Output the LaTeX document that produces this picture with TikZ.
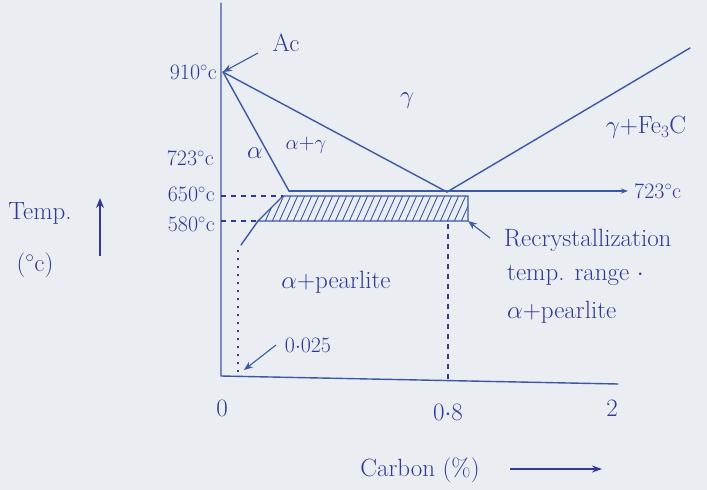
\documentclass[tikz,border=0pt]{standalone}
\usetikzlibrary{arrows.meta}
\definecolor{paper}{RGB}{234,238,243}
\definecolor{ink}{RGB}{48,58,150}
\definecolor{pen}{RGB}{58,88,165}
\tikzset{
  lbl/.style={text=ink, font=\fontsize{25}{27}\selectfont, inner sep=1pt},
  small/.style={text=ink, font=\fontsize{22}{24}\selectfont, inner sep=1pt},
  curve/.style={draw=pen, line width=1.4pt, line cap=round},
  guide/.style={draw=ink, line width=1.3pt, dashed, dash pattern=on 5pt off 5pt},
  dotguide/.style={draw=ink, line width=1.3pt, dash pattern=on 2pt off 6pt},
  pointer/.style={draw=pen, line width=1.1pt, -{Stealth[length=9pt,width=7pt]}},
}
\begin{document}
\begin{tikzpicture}[x=1pt,y=-1pt]
\fill[paper] (0,0) rectangle (707,490);
\useasboundingbox (0,0) rectangle (707,490);
% key points
\coordinate (O) at (221,376);
\coordinate (Ytop) at (221,3);
\coordinate (Xend) at (618,384);
\coordinate (T910) at (223,72);
\coordinate (Apt) at (289,191);
\coordinate (E) at (447,192);
\coordinate (Acm) at (690,48);
\coordinate (L723) at (628,191);
\coordinate (B1) at (283,196);
\coordinate (B2) at (468,196);
\coordinate (B3) at (468,221);
\coordinate (B4) at (258,221);
\coordinate (Y650) at (221,196);
\coordinate (Y580) at (221,221);
\coordinate (D1) at (241,245);
\coordinate (D2) at (238,250);
\coordinate (D3) at (238,372);
\coordinate (V1) at (448,224);
\coordinate (V2) at (448,380);
% axes
\draw[curve] (Ytop) -- (O) -- (Xend);
% phase lines
\draw[curve] (T910) -- (Apt);
\draw[curve] (T910) -- (E);
\draw[curve] (E) -- (Acm);
\draw[curve, -{Stealth[length=7pt,width=5pt]}] (Apt) -- (L723);
% hatched band
\begin{scope}
  \clip (B1) -- (B2) -- (B3) -- (B4) -- cycle;
  \foreach \x in {250,257,...,480} {
    \draw[pen, line width=0.9pt] (\x,224) -- (\x+14,193);
  }
\end{scope}
\draw[curve, line width=1.2pt] (B1) -- (B2) -- (B3) -- (B4) -- cycle;
\draw[curve] (B4) -- (D1);
% guides
\draw[guide] (Y650) -- (B1);
\draw[guide] (Y580) -- (B4);
\draw[dotguide] (D2) -- (D3);
\draw[guide] (V1) -- (V2);
% labels
\node[lbl] (ac) at (286,43) {Ac};
\coordinate (AcA) at (258,53);
\draw[pointer] (AcA) -- (T910);
\node[small, anchor=east] (t910) at (218,72) {910$^\circ$c};
\node[small, anchor=east] (t723) at (215,158) {723$^\circ$c};
\node[small, anchor=east] (t650) at (216,194) {650$^\circ$c};
\node[small, anchor=east] (t580) at (216,224) {580$^\circ$c};
\node[small, anchor=west] (r723) at (633,191) {723$^\circ$c};
\node[lbl] (temp) at (40,213) {Temp.};
\coordinate (TA1) at (100,256);
\coordinate (TA2) at (100,198);
\draw[draw=ink, line width=1.5pt, -{Stealth[length=10pt,width=8pt]}] (TA1) -- (TA2);
\node[lbl] (degc) at (35,265) {($^\circ$c)};
\node[lbl] (alpha) at (255,153) {$\alpha$};
\node[small] (ag) at (306,145) {$\alpha$+$\gamma$};
\node[lbl] (gamma) at (407,101) {$\gamma$};
\node[lbl] (gfe) at (646,127) {$\gamma$+Fe$_3$C};
\node[lbl] (ap) at (336,282) {$\alpha$+pearlite};
\node[lbl, anchor=west] (rc) at (503,240) {Recrystallization};
\node[lbl, anchor=west] (tr) at (506,275) {temp. range $\cdot$};
\node[lbl, anchor=west] (ap2) at (506,312) {$\alpha$+pearlite};
\coordinate (RA) at (490,238);
\draw[pointer] (RA) -- (B3);
\node[small] (c025) at (308,345) {0$\cdot$025};
\coordinate (CA) at (276,345);
\coordinate (CB) at (244,370);
\draw[pointer] (CA) -- (CB);
\node[lbl] (x0) at (222,408) {0};
\node[lbl] (x08) at (448,412) {0$\cdot$8};
\node[lbl] (x2) at (612,408) {2};
\node[lbl] (carbon) at (420,470) {Carbon (\%)};
\coordinate (CR1) at (510,469);
\coordinate (CR2) at (602,469);
\draw[draw=ink, line width=1.4pt, -{Stealth[length=10pt,width=7pt]}] (CR1) -- (CR2);
\end{tikzpicture}
\end{document}
